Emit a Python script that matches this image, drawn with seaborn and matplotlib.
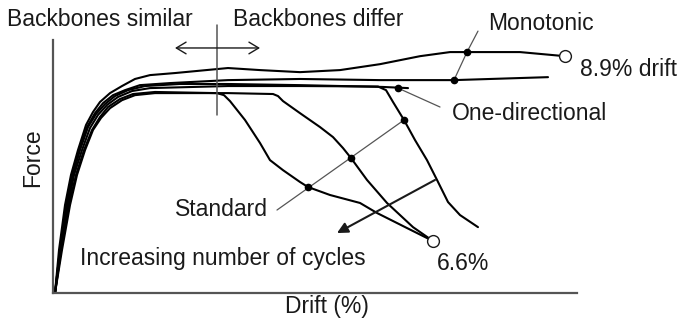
import numpy as np
import pandas as pd
import seaborn as sns
import matplotlib
matplotlib.use("Agg")
import matplotlib.pyplot as plt

# Drift (%) and normalised force for each backbone curve
mono_hi_drift = [0, 0.070, 0.175, 0.279, 0.401, 0.541, 0.663, 0.785, 0.960, 1.169, 1.396, 1.658, 2.094,
                 3.019, 3.578, 4.276, 4.974, 5.672, 6.370, 6.894, 8.115, 8.9]
mono_hi_force = [0, 0.189, 0.386, 0.518, 0.627, 0.737, 0.794, 0.838, 0.877, 0.908, 0.939, 0.956, 0.965,
                 0.987, 0.978, 0.969, 0.978, 1.004, 1.039, 1.057, 1.057, 1.039]

mono_lo_drift = [0, 0.087, 0.192, 0.297, 0.419, 0.558, 0.698, 0.838, 1.012, 1.222, 1.483, 2.007,
                 3.019, 4.276, 5.672, 6.963, 8.604]
mono_lo_force = [0, 0.189, 0.386, 0.518, 0.627, 0.728, 0.789, 0.833, 0.868, 0.890, 0.912, 0.921,
                 0.934, 0.939, 0.934, 0.934, 0.947]

onedir_drift = [0, 0.087, 0.209, 0.314, 0.436, 0.576, 0.716, 0.873, 1.047, 1.274, 1.571, 2.181,
                3.019, 4.276, 5.724, 6.161]
onedir_force = [0, 0.189, 0.386, 0.518, 0.627, 0.728, 0.785, 0.829, 0.864, 0.890, 0.908, 0.917,
                0.917, 0.912, 0.904, 0.899]

std1_drift = [0, 0.105, 0.227, 0.332, 0.471, 0.611, 0.750, 0.908, 1.099, 1.344, 1.658, 3.019, 4.276,
              5.637, 5.777, 5.899, 6.091, 6.283, 6.492, 6.667, 6.859, 7.068, 7.382]
std1_force = [0, 0.189, 0.386, 0.518, 0.627, 0.724, 0.781, 0.825, 0.860, 0.886, 0.899, 0.908, 0.908,
              0.906, 0.890, 0.838, 0.759, 0.671, 0.583, 0.496, 0.399, 0.342, 0.289]

std2_drift = [0, 0.122, 0.262, 0.384, 0.524, 0.663, 0.803, 0.960, 1.169, 1.396, 1.745, 3.019, 3.805,
              3.892, 3.979, 4.276, 4.625, 4.852, 5.026, 5.166, 5.445, 5.794, 6.248, 6.597]
std2_force = [0, 0.189, 0.386, 0.518, 0.627, 0.715, 0.768, 0.811, 0.846, 0.868, 0.877, 0.877, 0.873,
              0.864, 0.842, 0.789, 0.728, 0.684, 0.636, 0.592, 0.496, 0.395, 0.289, 0.228]

std3_drift = [0, 0.105, 0.244, 0.366, 0.506, 0.646, 0.785, 0.925, 1.134, 1.361, 1.745, 2.827, 2.949,
              3.054, 3.316, 3.578, 3.752, 3.979, 4.276, 4.415, 4.799, 5.323, 5.620, 6.143, 6.597]
std3_force = [0, 0.189, 0.386, 0.518, 0.627, 0.715, 0.772, 0.816, 0.851, 0.873, 0.882, 0.877, 0.868,
              0.842, 0.759, 0.658, 0.583, 0.539, 0.487, 0.465, 0.430, 0.395, 0.351, 0.285, 0.228]

# Marked points
mono_dots_drift = [7.190, 6.963]
mono_dots_force = [1.057, 0.934]
onedir_dot_drift = [5.986]
onedir_dot_force = [0.899]
std_dots_drift = [4.415, 5.166, 6.091]
std_dots_force = [0.465, 0.592, 0.759]
end_drift = [8.9, 6.597]
end_force = [1.039, 0.228]

curves = {
    "Monotonic A": (mono_hi_drift, mono_hi_force),
    "Monotonic B": (mono_lo_drift, mono_lo_force),
    "One-directional": (onedir_drift, onedir_force),
    "Standard 1": (std1_drift, std1_force),
    "Standard 2": (std2_drift, std2_force),
    "Standard 3": (std3_drift, std3_force),
}
df = pd.concat(
    [pd.DataFrame({"drift": d, "force": f, "curve": name}) for name, (d, f) in curves.items()],
    ignore_index=True,
)

sns.set_theme(style="white")
plt.rcParams["font.family"] = ["Liberation Sans", "DejaVu Sans"]

W, H = 679, 324
fig = plt.figure(figsize=(W / 100, H / 100), dpi=100)
ax = fig.add_axes([53 / W, 31 / H, 524 / W, 253 / H])

ink = "#1a1a1a"
grey = "#555555"

sns.lineplot(data=df, x="drift", y="force", units="curve", estimator=None,
             sort=False, color="black", linewidth=1.5, ax=ax, legend=False)
for ln in ax.get_lines():
    ln.set_solid_joinstyle("round")

ax.set_xlim(-0.035, 9.11)
ax.set_ylim(0, 1.11)
ax.set_xticks([])
ax.set_yticks([])
ax.set_xlabel("")
ax.set_ylabel("")
for side in ("top", "right"):
    ax.spines[side].set_visible(False)
for side in ("left", "bottom"):
    ax.spines[side].set_color(grey)
    ax.spines[side].set_linewidth(1.6)

# Boundary between similar and differing backbones
ax.plot([2.827, 2.827], [0.781, 1.175], color=grey, lw=1.1, clip_on=False)
ax.annotate("", xy=(2.094, 1.075), xytext=(3.578, 1.075),
            arrowprops=dict(arrowstyle="<->,head_length=0.5,head_width=0.3", color=ink, lw=1.0,
                            mutation_scale=14, shrinkA=0, shrinkB=0))

# Leader lines
ax.plot([7.382, mono_dots_drift[0], mono_dots_drift[1]], [1.149, mono_dots_force[0], mono_dots_force[1]],
        color=grey, lw=0.9, clip_on=False)
ax.plot([6.719, onedir_dot_drift[0]], [0.816, onedir_dot_force[0]], color=grey, lw=0.9)
ax.plot([3.874, std_dots_drift[-1]], [0.364, std_dots_force[-1]], color=grey, lw=0.9)

# Increasing number of cycles arrow
ax.annotate("", xy=(4.921, 0.263), xytext=(6.632, 0.496),
            arrowprops=dict(arrowstyle="-|>", color=ink, lw=1.5,
                            mutation_scale=16, shrinkA=0, shrinkB=0))

ax.plot(mono_dots_drift + onedir_dot_drift + std_dots_drift,
        mono_dots_force + onedir_dot_force + std_dots_force,
        ls="none", marker="o", ms=4.5, color="black", zorder=5)
ax.plot(end_drift, end_force, ls="none", marker="o", ms=8.5, mfc="white",
        mec=ink, mew=1.0, zorder=5, clip_on=False)


def label(px, py, s, ha="left", rot=0):
    fig.text(px / W, 1 - py / H, s, ha=ha, va="center", fontsize=16.5,
             color=ink, rotation=rot)


label(7, 20, "Backbones similar")
label(233, 20, "Backbones differ")
label(488, 23, "Monotonic")
label(580, 70, "8.9% drift")
label(452, 113, "One-directional")
label(175, 210, "Standard")
label(80, 258, "Increasing number of cycles")
label(437, 263, "6.6%")
label(327, 307, "Drift (%)", ha="center")
label(33, 158, "Force", ha="center", rot=90)

fig.savefig("out.png", dpi=100)
